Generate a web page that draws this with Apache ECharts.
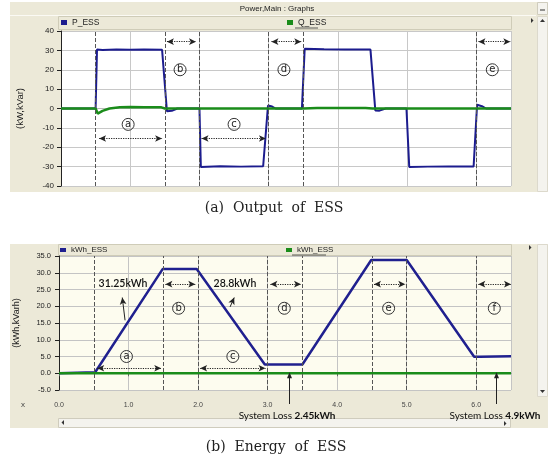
<!DOCTYPE html>
<html><head><meta charset="utf-8">
<script src="https://cdn.jsdelivr.net/npm/echarts@6/dist/echarts.min.js"></script>
<style>html,body{margin:0;padding:0;background:#fff}#c{width:548px;height:459px}</style>
</head><body><div id="c"></div>
<script>
// ---- data ----
const pTime   = [0, 0.5, 0.52, 0.6, 0.8, 1.0, 1.2, 1.46, 1.53, 1.6, 1.68, 2.0, 2.02, 2.3, 2.6, 2.92, 2.99, 3.05, 3.1, 3.48, 3.52, 3.8, 4.1, 4.47, 4.54, 4.6, 4.69, 4.99, 5.03, 5.3, 5.6, 5.96, 6.01, 6.08, 6.14, 6.5];
const pValues = [0, 0, 30.4, 30.2, 30.5, 30.3, 30.4, 30.3, -1.4, -1.2, 0, 0, -30.2, -29.8, -30.0, -29.8, 1.5, 1.0, 0, 0, 30.8, 30.6, 30.5, 30.4, -1.0, -1.1, 0, 0, -30.2, -30.0, -29.9, -29.9, 1.9, 1.2, 0, 0];
const qTime   = [0, 0.5, 0.53, 0.6, 0.7, 0.85, 1.0, 1.2, 1.45, 1.5, 3.5, 3.7, 4.0, 4.4, 4.5, 6.5];
const qValues = [0, 0, -2.6, -1.2, 0, 0.6, 0.8, 0.7, 0.6, 0, 0, 0.3, 0.2, 0.3, 0, 0];
const eTime   = [0, 0.52, 1.49, 1.98, 2.96, 3.5, 4.49, 5.0, 5.97, 6.05, 6.07, 6.5];
const eValues = [0, 0.3, 31.1, 31.1, 2.6, 2.6, 33.8, 33.8, 4.9, 4.9, 5.1, 5.1];
const gTime   = [0, 6.5];
const gValues = [0, 0];
const powerTicks  = [-40, 40, 10];
const energyTicks = [-5, 35, 5];
const timeRange   = [0, 6.5, 1];

// ---- annotations (data coordinates) ----
const dashTop = [0.5, 1.5, 2.0, 3.0, 3.5, 6.0];
const dashBottom = [0.5, 1.5, 2.0, 3.0, 3.5, 4.5, 5.0, 6.0];
const spansTop = [[0.55,1.46,-15.5],[1.53,1.95,34.5],[2.03,2.96,-15.5],[3.04,3.47,34.5],[6.03,6.49,34.5]];
const lettersTop = [['a',0.97,-8.2],['b',1.72,20],['c',2.5,-8.2],['d',3.22,20],['e',6.23,20]];
const spansBottom = [[0.55,1.47,1.5],[1.53,1.96,26.6],[2.03,2.97,1.5],[3.04,3.48,26.6],[4.53,4.98,26.6],[6.03,6.5,26.6]];
const lettersBottom = [['a',0.97,5],['b',1.72,19.4],['c',2.5,5],['d',3.24,19.4],['e',4.74,19.4],['f',6.26,19.4]];
const energyNotes = [['31.25kWh',0.92,26.9],['28.8kWh',2.53,26.9]];
const pointers = [[0.95,15.8,0.91,22.6],[2.46,19.8,2.52,22.6]];
const lossNotes = [['2.45kWh',3.31,3.28],['4.9kWh',6.29,6.27]];

const zip = (a,b) => a.map((x,i)=>[x,b[i]]);
const AX = '#222';
const circ = {fontSize:10, fontFamily:'DejaVu Sans', color:'#222', borderColor:'#333', borderWidth:1, borderRadius:7, width:12, height:12, lineHeight:12, align:'center'};

function spanLines(spans){
  return spans.map(s=>[{coord:[s[0],s[2]]},{coord:[s[1],s[2]]}]);
}
function letterPoints(ls){
  return ls.map(l=>({coord:[l[1],l[2]], label:{formatter:'{c|'+l[0]+'}'}}));
}

const graphics = [
    // top window
    {type:'rect', z:-100, shape:{x:10,y:2,width:538,height:190}, style:{fill:'#ece9d8'}},
    {type:'line', z:-99, shape:{x1:10,y1:15.5,x2:536,y2:15.5}, style:{stroke:'#fbfaf4', lineWidth:1}},
    {type:'text', z:5, style:{text:'Power,Main : Graphs', x:277, y:9, font:'8px "Liberation Sans"', fill:'#222', align:'center', verticalAlign:'middle', textAlign:'center', textVerticalAlign:'middle'}},
    {type:'rect', z:-99, shape:{x:58.5,y:16.5,width:453,height:13}, style:{fill:'#ece9d8', stroke:'#cfccb8'}},
    {type:'line', z:5, shape:{x1:295,y1:28,x2:318,y2:28}, style:{stroke:'#333', lineWidth:0.8}},
    {type:'rect', z:-99, shape:{x:537.5,y:2.5,width:10,height:12}, style:{fill:'#f4f3ee', stroke:'#cfccbd'}},
    {type:'line', z:5, shape:{x1:540,y1:10,x2:545,y2:10}, style:{stroke:'#333', lineWidth:1}},
    {type:'rect', z:-99, shape:{x:537.5,y:16.5,width:10,height:175}, style:{fill:'#f4f3ee', stroke:'#dcd9cc'}},
    {type:'polygon', z:5, shape:{points:[[540,22],[545,22],[542.5,19]]}, style:{fill:'#333'}},
    {type:'polygon', z:5, shape:{points:[[531,18],[531,23],[533.5,20.5]]}, style:{fill:'#333'}},
    // bottom window
    {type:'rect', z:-100, shape:{x:10,y:244,width:538,height:184}, style:{fill:'#ece9d8'}},
    {type:'rect', z:-99, shape:{x:58.5,y:244.5,width:453,height:11}, style:{fill:'#ece9d8', stroke:'#cfccb8'}},
    {type:'line', z:5, shape:{x1:292,y1:255,x2:326,y2:255}, style:{stroke:'#333', lineWidth:0.8}},
    {type:'rect', z:-99, shape:{x:537.5,y:244.5,width:10,height:152}, style:{fill:'#f4f3ee', stroke:'#dcd9cc'}},
    {type:'polygon', z:5, shape:{points:[[540,390],[545,390],[542.5,393]]}, style:{fill:'#333'}},
    {type:'polygon', z:5, shape:{points:[[529,245],[529,250],[531.5,247.5]]}, style:{fill:'#333'}},
    {type:'rect', z:-99, shape:{x:58.5,y:418.5,width:452,height:9}, style:{fill:'#f4f3ee', stroke:'#cfccbd'}},
    {type:'polygon', z:5, shape:{points:[[64,420],[64,425],[61.5,422.5]]}, style:{fill:'#333'}},
    {type:'polygon', z:5, shape:{points:[[504,421],[504,426],[506.5,423.5]]}, style:{fill:'#333'}},
    {type:'text', z:5, style:{text:'x', x:23, y:405, font:'8px "Liberation Sans"', fill:'#444', align:'center', verticalAlign:'middle', textAlign:'center', textVerticalAlign:'middle'}},
    // captions
    {type:'text', z:5, style:{text:'(a)  Output  of  ESS', x:274, y:208, font:'14px "DejaVu Serif"', fill:'#222', align:'center', verticalAlign:'middle', textAlign:'center', textVerticalAlign:'middle'}},
    {type:'text', z:5, style:{text:'(b)  Energy  of  ESS', x:276, y:447, font:'14px "DejaVu Serif"', fill:'#222', align:'center', verticalAlign:'middle', textAlign:'center', textVerticalAlign:'middle'}}
];

const chart = echarts.init(document.getElementById('c'));
const option = {
  animation:false,
  grid:[
    {left:61, top:31, width:450, height:155, show:true, backgroundColor:'#ffffff', borderWidth:0},
    {left:59, top:256, width:452, height:134, show:true, backgroundColor:'#fdfcef', borderWidth:0}
  ],
  xAxis:[
    {gridIndex:0, type:'value', min:timeRange[0], max:timeRange[1], interval:timeRange[2],
     axisLabel:{show:false}, axisTick:{show:false}, axisLine:{show:true, lineStyle:{color:'#b8b8b8'}},
     splitLine:{show:true, lineStyle:{color:'#c8c8c8'}}},
    {gridIndex:1, type:'value', min:timeRange[0], max:timeRange[1], interval:timeRange[2], offset:8,
     axisLabel:{fontSize:7, fontFamily:'Liberation Sans', color:'#444', margin:4, showMaxLabel:false, formatter:v=>v.toFixed(1)},
     axisTick:{show:true, length:3, lineStyle:{color:'#666'}}, axisLine:{show:true, lineStyle:{color:'#777'}},
     splitLine:{show:true, lineStyle:{color:'#c4c4c4'}}}
  ],
  yAxis:[
    {gridIndex:0, type:'value', min:powerTicks[0], max:powerTicks[1], interval:powerTicks[2],
     name:'(kW,kVar)', nameLocation:'middle', nameRotate:90, nameGap:36,
     nameTextStyle:{fontSize:9.5, fontFamily:'Liberation Sans', color:'#222'},
     axisLabel:{fontSize:8, fontFamily:'Liberation Sans', color:'#222', margin:7},
     axisTick:{show:true, length:4, lineStyle:{color:AX}}, axisLine:{show:true, lineStyle:{color:AX}},
     splitLine:{show:true, lineStyle:{color:'#c8c8c8'}}},
    {gridIndex:1, type:'value', min:energyTicks[0], max:energyTicks[1], interval:energyTicks[2],
     name:'(kWh,kVarh)', nameLocation:'middle', nameRotate:90, nameGap:38,
     nameTextStyle:{fontSize:9, fontFamily:'Liberation Sans', color:'#222'},
     axisLabel:{fontSize:7.5, fontFamily:'Liberation Sans', color:'#222', margin:8, formatter:v=>v.toFixed(1)},
     axisTick:{show:true, length:4, lineStyle:{color:AX}}, axisLine:{show:true, lineStyle:{color:AX}},
     splitLine:{show:true, lineStyle:{color:'#c4c4c4'}}}
  ],
  legend:[
    {data:['P_ESS'], left:61, top:18, padding:0, icon:'rect', itemWidth:6, itemHeight:5, textStyle:{fontSize:8.5, fontFamily:'Liberation Sans', color:'#222'}},
    {data:['Q_ESS'], left:287, top:18, padding:0, icon:'rect', itemWidth:6, itemHeight:5, textStyle:{fontSize:8.5, fontFamily:'Liberation Sans', color:'#222'}},
    {data:['kWh_ESS'], left:60, top:246, padding:0, icon:'rect', itemWidth:6, itemHeight:4, textStyle:{fontSize:8, fontFamily:'Liberation Sans', color:'#222'}},
    {data:['kWh_ESS '], left:286, top:246, padding:0, icon:'rect', itemWidth:6, itemHeight:4, textStyle:{fontSize:8, fontFamily:'Liberation Sans', color:'#222'}}
  ],
  series:[
    {name:'annTop', type:'line', xAxisIndex:0, yAxisIndex:0, data:[], silent:true, clip:false,
     markLine:{silent:true, symbol:['none','none'], label:{show:false}, lineStyle:{type:'dashed', color:'#555', width:1},
       data:dashTop.map(x=>({xAxis:x}))},
     markPoint:{silent:true, symbol:'circle', symbolSize:1, itemStyle:{color:'transparent'},
       label:{show:true, position:'inside', rich:{c:circ}}, data:letterPoints(lettersTop)}},
    {name:'annTop2', type:'line', xAxisIndex:0, yAxisIndex:0, data:[], silent:true, clip:false,
     markLine:{silent:true, symbol:['arrow','arrow'], symbolSize:[5,7], label:{show:false},
       lineStyle:{type:'dotted', color:'#222', width:1.2}, data:spanLines(spansTop)}},
    {name:'P_ESS', type:'line', xAxisIndex:0, yAxisIndex:0, data:zip(pTime,pValues), showSymbol:false,
     color:'#1c1c8e', lineStyle:{width:2, color:'#1c1c8e'}},
    {name:'Q_ESS', type:'line', xAxisIndex:0, yAxisIndex:0, data:zip(qTime,qValues), showSymbol:false,
     color:'#1a8c1a', lineStyle:{width:2.5, color:'#1a8c1a'}},

    {name:'annBot', type:'line', xAxisIndex:1, yAxisIndex:1, data:[], silent:true, clip:false,
     markLine:{silent:true, symbol:['none','none'], label:{show:false}, lineStyle:{type:'dashed', color:'#555', width:1},
       data:dashBottom.map(x=>({xAxis:x}))},
     markPoint:{silent:true, symbol:'circle', symbolSize:1, itemStyle:{color:'transparent'},
       label:{show:true, position:'inside', rich:{c:circ}},
       data:letterPoints(lettersBottom)
         .concat(energyNotes.map(n=>({coord:[n[1],n[2]], label:{formatter:n[0], fontSize:10.5, fontFamily:'Lato', fontWeight:600, color:'#111'}})))}},
    {name:'annBot2', type:'line', xAxisIndex:1, yAxisIndex:1, data:[], silent:true, clip:false,
     markLine:{silent:true, symbol:['arrow','arrow'], symbolSize:[5,7], label:{show:false},
       lineStyle:{type:'dotted', color:'#222', width:1.2},
       data:spanLines(spansBottom)
         .concat(pointers.map(p=>[{coord:[p[0],p[1]], symbol:'none', lineStyle:{type:'solid', width:1, curveness:0.4}},{coord:[p[2],p[3]], symbol:'arrow'}]))}},
    {name:'kWh_ESS', type:'line', xAxisIndex:1, yAxisIndex:1, data:zip(eTime,eValues), showSymbol:false,
     color:'#20208f', lineStyle:{width:2.5, color:'#20208f'}},
    {name:'kWh_ESS ', type:'line', xAxisIndex:1, yAxisIndex:1, data:zip(gTime,gValues), showSymbol:false,
     color:'#1a8c1a', lineStyle:{width:2.5, color:'#1a8c1a'}}
  ],
  graphic:graphics
};
chart.setOption(option);

// System-loss arrows and labels sit below the plot, so place them through the axis scale
lossNotes.forEach(n=>{
  const head = chart.convertToPixel({gridIndex:1}, [n[1], 0.3]);
  const tx = chart.convertToPixel({gridIndex:1}, [n[2], 0])[0];
  const x = Math.round(head[0]) + 0.5;
  graphics.push({type:'line', z:6, shape:{x1:x, y1:404, x2:x, y2:head[1]+5}, style:{stroke:'#222', lineWidth:1}});
  graphics.push({type:'polygon', z:6, shape:{points:[[x-2.5,head[1]+6],[x+2.5,head[1]+6],[x,head[1]]]}, style:{fill:'#222'}});
  graphics.push({type:'text', z:7, style:{text:'{n|System Loss }{b|'+n[0]+'}', x:tx, y:416, align:'center', verticalAlign:'middle', textAlign:'center', textVerticalAlign:'middle',
    rich:{n:{fontSize:10, fontFamily:'Lato', fill:'#111', color:'#111'}, b:{fontSize:10, fontFamily:'Lato', fontWeight:'bold', fill:'#111', color:'#111'}}}});
});
chart.setOption({graphic:graphics});
</script></body></html>
